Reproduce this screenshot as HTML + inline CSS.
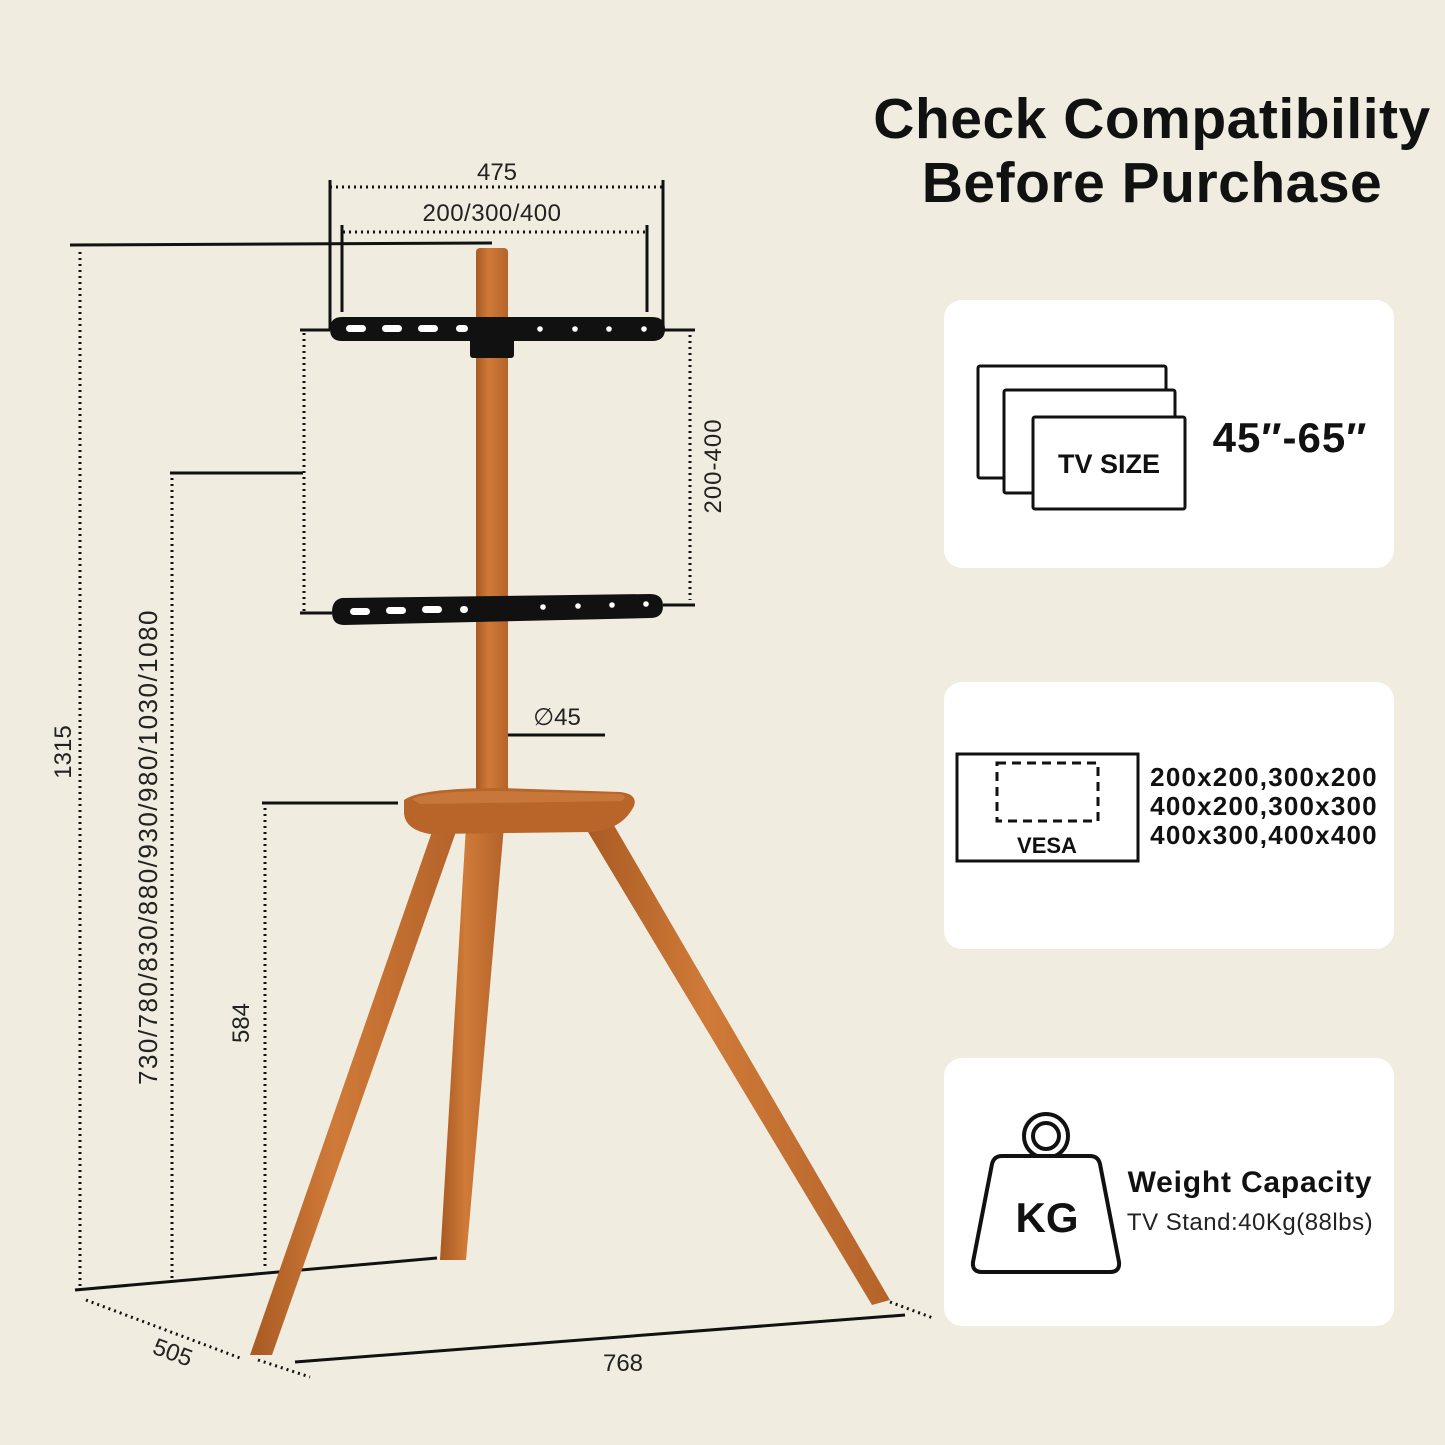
<!DOCTYPE html>
<html><head><meta charset="utf-8"><style>
html,body{margin:0;padding:0;background:#f0ece0;}
svg{display:block}
</style></head><body>
<svg width="1445" height="1445" viewBox="0 0 1445 1445" xmlns="http://www.w3.org/2000/svg" font-family="Liberation Sans, sans-serif">
<defs>
<linearGradient id="w" x1="0" x2="1" y1="0" y2="0">
<stop offset="0" stop-color="#a85a22"/><stop offset="0.4" stop-color="#cf7a38"/><stop offset="1" stop-color="#b4632a"/>
</linearGradient>
</defs>
<rect width="1445" height="1445" fill="#f0ece0"/>

<!-- title -->
<text x="1152" y="138" text-anchor="middle" font-size="57" font-weight="bold" fill="#111" letter-spacing="0.5">Check Compatibility</text>
<text x="1152" y="202" text-anchor="middle" font-size="57" font-weight="bold" fill="#111" letter-spacing="0.5">Before Purchase</text>

<!-- cards -->
<rect x="944" y="300" width="450" height="268" rx="18" fill="#fff"/>
<rect x="944" y="682" width="450" height="267" rx="18" fill="#fff"/>
<rect x="944" y="1058" width="450" height="268" rx="18" fill="#fff"/>

<!-- TV size icon -->
<g fill="#fff" stroke="#111" stroke-width="3">
<rect x="978" y="366" width="188" height="112" rx="2"/>
<rect x="1004" y="390" width="171" height="103" rx="2"/>
<rect x="1033" y="417" width="152" height="92" rx="2"/>
</g>
<text x="1109" y="473" text-anchor="middle" font-size="27" font-weight="bold" fill="#111">TV SIZE</text>
<text x="1290" y="452" text-anchor="middle" font-size="42" font-weight="bold" fill="#111" letter-spacing="1">45″-65″</text>

<!-- VESA icon -->
<rect x="957" y="754" width="181" height="107" fill="none" stroke="#111" stroke-width="3"/>
<rect x="997" y="763" width="101" height="58" fill="none" stroke="#111" stroke-width="3" stroke-dasharray="9 6"/>
<text x="1047" y="853" text-anchor="middle" font-size="22" font-weight="bold" fill="#111">VESA</text>
<g font-size="26" font-weight="bold" fill="#111" text-anchor="middle" letter-spacing="1.2">
<text x="1264" y="786">200x200,300x200</text>
<text x="1264" y="815">400x200,300x300</text>
<text x="1264" y="844">400x300,400x400</text>
</g>

<!-- KG icon -->
<circle cx="1046" cy="1136" r="22" fill="none" stroke="#111" stroke-width="4"/>
<circle cx="1046" cy="1136" r="13" fill="none" stroke="#111" stroke-width="4"/>
<path d="M1002 1156 H1090 Q1098 1156 1100 1164 L1119 1262 Q1120 1272 1110 1272 H982 Q972 1272 973 1262 L992 1164 Q994 1156 1002 1156 Z" fill="#fff" stroke="#111" stroke-width="4"/>
<text x="1047" y="1232" text-anchor="middle" font-size="42" font-weight="bold" fill="#111">KG</text>
<text x="1250" y="1192" text-anchor="middle" font-size="30" font-weight="bold" fill="#111" letter-spacing="0.8">Weight Capacity</text>
<text x="1250" y="1230" text-anchor="middle" font-size="24" fill="#222" letter-spacing="0.5">TV Stand:40Kg(88lbs)</text>

<!-- dimension lines -->
<g stroke="#111" fill="none">
<g stroke-width="3">
<line x1="70" y1="245" x2="492" y2="243"/>
<line x1="170" y1="473" x2="303" y2="473"/>
<line x1="262" y1="803" x2="398" y2="803"/>
<line x1="75" y1="1290" x2="437" y2="1258"/>
<line x1="295" y1="1362" x2="905" y2="1315"/>
<line x1="330" y1="180" x2="330" y2="330"/>
<line x1="663" y1="180" x2="663" y2="330"/>
<line x1="342" y1="225" x2="342" y2="312"/>
<line x1="647" y1="225" x2="647" y2="312"/>
<line x1="300" y1="330" x2="330" y2="330"/>
<line x1="663" y1="330" x2="695" y2="330"/>
<line x1="300" y1="613" x2="332" y2="613"/>
<line x1="663" y1="605" x2="695" y2="605"/>
<line x1="477" y1="735" x2="605" y2="735"/>
</g>
<g stroke-width="3" stroke-dasharray="2 4">
<line x1="330" y1="187" x2="663" y2="187"/>
<line x1="343" y1="232" x2="647" y2="232"/>
<line x1="80" y1="252" x2="80" y2="1288"/>
<line x1="172" y1="478" x2="172" y2="1278"/>
<line x1="265" y1="808" x2="265" y2="1270"/>
<line x1="304" y1="333" x2="304" y2="612"/>
<line x1="690" y1="335" x2="690" y2="600"/>
<line x1="86" y1="1300" x2="240" y2="1358"/>
<line x1="258" y1="1360" x2="310" y2="1377"/>
<line x1="890" y1="1302" x2="933" y2="1318"/>
</g>
</g>
<g font-size="24" fill="#222">
<text x="497" y="180" text-anchor="middle">475</text>
<text x="492" y="221" text-anchor="middle" letter-spacing="0.5">200/300/400</text>
<text x="557" y="725" text-anchor="middle">∅45</text>
<text x="623" y="1371" text-anchor="middle">768</text>
<text transform="translate(170,1360) rotate(20)" text-anchor="middle">505</text>
<text transform="translate(71,752) rotate(-90)" text-anchor="middle">1315</text>
<text transform="translate(157,847) rotate(-90)" text-anchor="middle" font-size="26" letter-spacing="1.5">730/780/830/880/930/980/1030/1080</text>
<text transform="translate(249,1023) rotate(-90)" text-anchor="middle">584</text>
<text transform="translate(721,466) rotate(-90)" text-anchor="middle" letter-spacing="1">200-400</text>
</g>

<!-- legs -->
<g fill="url(#w)">
<polygon points="582,822 612,822 890,1300 872,1305"/>
<polygon points="466,826 504,826 466,1260 440,1260"/>
<polygon points="434,826 458,826 272,1355 250,1355"/>
</g>
<!-- pole -->
<rect x="476" y="248" width="32" height="548" rx="4" fill="url(#w)"/>
<!-- tray -->
<path d="M404 800 Q420 788 500 788 L620 792 Q638 794 634 806 Q622 830 590 832 L430 834 Q406 830 404 814 Z" fill="#b9652a"/>
<path d="M412 799 Q430 791 500 791 L620 794 Q628 796 622 801 L420 804 Z" fill="#c8773a"/>
<!-- brackets -->
<rect x="470" y="330" width="44" height="28" rx="3" fill="#111"/>
<path d="M342 317 L652 317 Q665 317 665 329 Q665 341 652 341 L342 341 Q330 341 330 329 Q330 317 342 317 Z" fill="#111"/>
<path d="M342 598 L650 594 Q663 594 663 606 Q663 618 650 618 L344 625 Q332 625 332 612 Q332 600 342 598 Z" fill="#111"/>
<g fill="#fff">
<rect x="346" y="325" width="20" height="7" rx="3.5"/>
<rect x="382" y="325" width="20" height="7" rx="3.5"/>
<rect x="418" y="325" width="20" height="7" rx="3.5"/>
<rect x="456" y="325" width="12" height="7" rx="3.5"/>
<circle cx="540" cy="329" r="2.8"/><circle cx="575" cy="329" r="2.8"/><circle cx="609" cy="329" r="2.8"/><circle cx="644" cy="329" r="2.8"/>
<rect x="350" y="608" width="20" height="7" rx="3.5"/>
<rect x="386" y="607" width="20" height="7" rx="3.5"/>
<rect x="422" y="606" width="20" height="7" rx="3.5"/>
<rect x="460" y="606" width="8" height="7" rx="3.5"/>
<circle cx="543" cy="607" r="2.8"/><circle cx="578" cy="606" r="2.8"/><circle cx="612" cy="605" r="2.8"/><circle cx="646" cy="604" r="2.8"/>
</g>
</svg>
</body></html>
